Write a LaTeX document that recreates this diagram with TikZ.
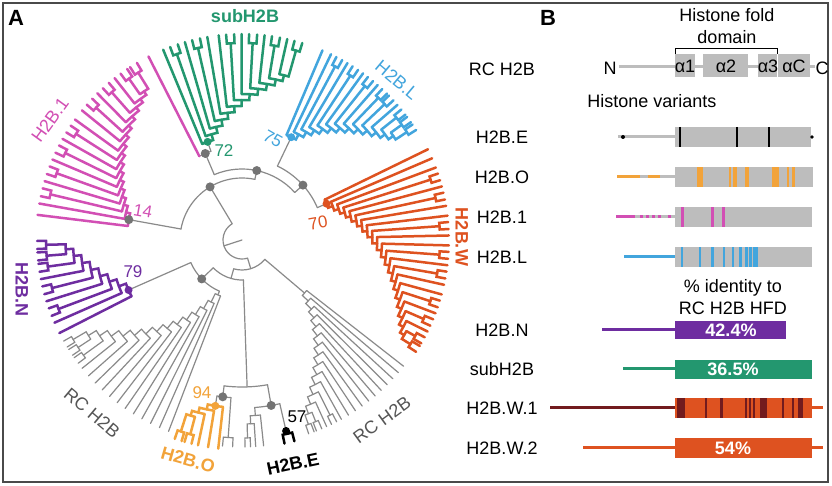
\documentclass[tikz,border=0pt]{standalone}
\usepackage{fontspec}
\setmainfont{Liberation Sans}
\usepackage{tikz}

\definecolor{framec}{HTML}{4A4A4A}
\definecolor{treegray}{HTML}{8A8A8A}
\definecolor{dotgray}{HTML}{747474}
\definecolor{textgray}{HTML}{555555}
\definecolor{bargray}{HTML}{BDBDBD}
\definecolor{subgreen}{HTML}{23976F}
\definecolor{lblue}{HTML}{42A5DD}
\definecolor{pinkc}{HTML}{D24FB4}
\definecolor{purp}{HTML}{6E2DA0}
\definecolor{wred}{HTML}{DE5220}
\definecolor{orng}{HTML}{F2A33A}
\definecolor{maroon}{HTML}{721B1E}

\tikzset{
  tr/.style={treegray, line width=0.6pt},
  cl/.style={#1, line width=1.25pt},
  nterm/.style={line width=1.5pt},
  lab/.style={font=\fontsize{9}{10}\selectfont},
  blab/.style={font=\bfseries\fontsize{9}{10}\selectfont},
  num/.style={font=\fontsize{8.5}{9}\selectfont}
}

% staircase clade: #1 style, #2 first node radius, #3 radius step, #4 tip radius,
% #5 first angle, #6 angle step, #7 number of units, #8 units (1 leaf, 2 cherry)
\newcommand{\clade}[8]{%
  \foreach \ut [count=\jj from 0] in {#8}{
    \pgfmathsetmacro{\ua}{#5+\jj*(#6)}
    \pgfmathsetmacro{\rj}{#2+\jj*(#3)}
    \ifnum\jj<\numexpr#7-1\relax
      \pgfmathsetmacro{\mn}{#5+(\jj+1)*(#6)+(#6)*(1-2^(-(#7-2-\jj)))}
      \pgfmathsetmacro{\rn}{#2+(\jj+1)*(#3)}
      \draw[#1] (\ua:\rj) arc[start angle=\ua, end angle=\mn, radius=\rj] -- (\mn:\rn);
    \fi
    \ifnum\ut=1
      \draw[#1] (\ua:\rj) -- (\ua:#4);
    \else
      \pgfmathsetmacro{\hw}{0.35*abs(#6)}
      \pgfmathsetmacro{\rc}{#4-9}
      \draw[#1] (\ua:\rj) -- (\ua:\rc);
      \draw[#1] (\ua-\hw:#4) -- (\ua-\hw:\rc) arc[start angle=\ua-\hw, end angle=\ua+\hw, radius=\rc] -- (\ua+\hw:#4);
    \fi
  }%
}

\begin{document}
\begin{tikzpicture}[x=0.5pt,y=-0.5pt]
\useasboundingbox (0,0) rectangle (832,486);
\fill[white] (0,0) rectangle (832,486);
\draw[framec, line width=1.1pt] (3,3) rectangle (828,482);

\node[font=\bfseries\fontsize{11}{11}\selectfont] (lA) at (16,18) {A};
\node[font=\bfseries\fontsize{11}{11}\selectfont] (lB) at (548,18) {B};

% tree
\begin{scope}[shift={(242,240)}, y=0.5pt, line cap=round]
\draw[tr] (198:0) -- (198:19);
\draw[tr] (121:19) arc[start angle=121, end angle=287, radius=19];
\draw[tr] (121:19) -- (121:62);
\draw[tr] (169.8:62) arc[start angle=169.8, end angle=78, radius=62];
\draw[tr] (169.8:62) -- (169.8:115);
\draw[tr] (78:62) -- (78:71);
\draw[tr] (113:71) arc[start angle=113, end angle=42, radius=71];
\draw[tr] (113:71) -- (113:94);
\draw[tr] (117:94) arc[start angle=117, end angle=109.3, radius=94];
\draw[tr] (109.3:94) -- (109.3:104);
\draw[tr] (42:71) -- (42:82);
\draw[tr] (64.4:82) arc[start angle=64.4, end angle=23.25, radius=82];
\draw[tr] (64.4:82) -- (64.4:114);
\draw[tr] (23.25:82) -- (23.25:92);
\draw[tr] (287:19) -- (287:30);
\draw[tr] (254:30) arc[start angle=254, end angle=319.7, radius=30];
\draw[tr] (319.7:30) -- (319.7:82);
\draw[tr] (254:30) -- (254:40);
\draw[tr] (224:40) arc[start angle=224, end angle=272, radius=40];
\draw[tr] (224:40) -- (224:56);
\draw[tr] (203.8:56) arc[start angle=203.8, end angle=246.25, radius=56];
\draw[tr] (203.8:56) -- (203.8:124);
\draw[tr] (246.25:56) -- (246.25:60);
\draw[tr] (272:40) -- (272:147);
\draw[tr] (263:147) arc[start angle=263, end angle=280, radius=147];
\draw[tr] (263:147) -- (263:158);
\draw[tr] (260.875:158) arc[start angle=260.875, end angle=266, radius=158];
\draw[tr] (260.875:158) -- (260.875:168);
\draw[tr] (280:147) -- (280:168);
\draw[tr] (274.35:168) arc[start angle=274.35, end angle=283, radius=168];
\draw[tr] (274.35:168) -- (274.35:176);
\draw[tr] (283:168) -- (283:196);

\draw[cl=pinkc] (117:94) -- (117:206);
\clade{cl=pinkc}{115}{4.2}{206}{173}{-3.2}{17}{1,1,2,1,2,1,2,1,2,1,1,2,1,2,1,2,2}
\clade{cl=subgreen}{104}{6}{206}{112.5}{-3.2}{13}{1,2,1,2,1,1,2,1,2,1,2,1,2}
\clade{cl=lblue}{114}{5.8}{206}{67}{-2.6}{14}{1,1,2,1,2,1,2,1,2,2,1,2,2,2}
\clade{cl=wred}{92}{4.8}{207}{26}{-2.75}{22}{1,1,1,2,1,2,1,1,2,1,1,2,1,2,1,1,2,1,2,1,2,2}
\clade{cl=purp}{124}{7.5}{205}{207}{-3.2}{9}{1,1,2,1,2,1,2,2,2}
\clade{tr}{60}{9.3}{205}{249}{-2.75}{15}{1,1,1,1,1,1,1,1,1,1,1,1,2,2,2}
\clade{tr}{82}{8}{205}{322}{-2.3}{15}{1,1,1,1,1,1,1,1,1,1,1,2,1,2,2}
\clade{cl=orng}{168}{5}{210}{263.5}{-2.8}{5}{1,1,1,2,2}
\clade{tr}{158}{0}{207}{266}{-4}{1}{2}
\clade{tr}{176}{8}{207}{276}{-2.2}{3}{1,1,2}
\clade{cl=black}{196}{0}{208}{283.2}{-4}{1}{2}

\foreach \a/\r in {121/62, 78/71, 42/82, 113/94, 169.8/115, 224/56, 263/158, 280/168}
  \fill[dotgray] (\a:\r) circle[radius=4.5];
\fill[subgreen] (109.3:104) circle[radius=4];
\fill[lblue] (64.4:114) circle[radius=4];
\fill[wred] (23.25:92) circle[radius=4];
\fill[purp] (203.8:124) circle[radius=4];
\fill[orng] (260.875:168) circle[radius=4];
\fill[black] (283:196) circle[radius=4];
\end{scope}

% clade labels
\node[blab, subgreen] (tsub) at (245,16) {subH2B};
\node[lab, lblue, rotate=-40] (tL) at (397,80) {H2B.L};
\node[lab, pinkc, rotate=54] (t1) at (50,120) {H2B.1};
\node[blab, purp, rotate=-90] (tN) at (22,290) {H2B.N};
\node[blab, wred, rotate=-90] (tW) at (462,237) {H2B.W};
\node[lab, textgray, rotate=-40] (tRCl) at (92,413) {RC H2B};
\node[lab, textgray, rotate=36] (tRCr) at (382,420) {RC H2B};
\node[blab, orng, rotate=-16] (tO) at (188,460) {H2B.O};
\node[blab, black, rotate=12] (tE) at (293,464) {H2B.E};

\node[num, subgreen] (n72) at (224,151) {72};
\node[num, lblue, rotate=-30] (n75) at (273,139) {75};
\node[num, wred, rotate=10] (n70) at (318,223) {70};
\node[num, pinkc, rotate=-10] (n14) at (143,211) {14};
\node[num, purp] (n79) at (133,272) {79};
\node[num, orng] (n94) at (202,393) {94};
\node[num, black] (n57) at (297,417) {57};

% panel B
\node[lab] (hf1) at (727,15) {Histone fold};
\node[lab] (hf2) at (727,37) {domain};
\draw[line width=0.5pt] (675,54) -- (675,49) -- (777,49) -- (777,54);
\node[lab] (rRC) at (502,69) {RC H2B};
\node[lab] (nN) at (610,68) {N};
\node[lab] (nC) at (822,68) {C};
\draw[bargray, nterm] (619,67) -- (675,67) (695,67) -- (703,67) (748,67) -- (758,67) (810,67) -- (815,67);
\fill[bargray] (675,54) rectangle (695,77);
\fill[bargray] (703,54) rectangle (748,77);
\fill[bargray] (758,54) rectangle (777,77);
\fill[bargray] (778,54) rectangle (810,77);
\node[lab] (h1) at (685,66) {α1};
\node[lab] (h2) at (726,66) {α2};
\node[lab] (h3) at (768,66) {α3};
\node[lab] (hC) at (794,66) {αC};

\node[lab] (hv) at (652,101) {Histone variants};

\node[lab] (rE) at (502,137) {H2B.E};
\draw[bargray, nterm] (618,137) -- (675,137);
\fill[black] (623,137) circle[radius=2];
\fill[bargray] (675,127) rectangle (811,147);
\foreach \x in {680,737,769}
  \draw[black, line width=0.8pt] (\x,127) -- (\x,147);
\fill[black] (812,137) circle[radius=1.8];

\node[lab] (rO) at (502,177) {H2B.O};
\draw[bargray, nterm] (617,177) -- (675,177);
\draw[orng, nterm] (617,177) -- (640,177) (648,177) -- (660,177);
\fill[bargray] (675,167) rectangle (813,187);
\foreach \x/\w in {697/6, 729/2, 733/4, 745/4, 772/7, 787/2, 792/3}
  \fill[orng] (\x,167) rectangle ++(\w,20);

\node[lab] (r1) at (502,217) {H2B.1};
\draw[bargray, nterm] (616,217) -- (675,217);
\draw[pinkc, nterm] (616,217) -- (635,217);
\foreach \x in {640,646,652,658,668}
  \draw[pinkc, nterm] (\x,217) -- ++(3,0);
\fill[bargray] (675,207) rectangle (812,227);
\foreach \x/\w in {681/2.5, 711/2.5, 722/2.5}
  \fill[pinkc] (\x,207) rectangle ++(\w,20);

\node[lab] (rL) at (502,257) {H2B.L};
\draw[lblue, nterm] (624,257) -- (675,257);
\fill[bargray] (675,247) rectangle (812,267);
\foreach \x/\w in {681/2, 699/2, 711/2.5, 723/2, 732/2, 739/2.5, 745/2.5, 749/3, 753/5}
  \fill[lblue] (\x,247) rectangle ++(\w,20);

\node[lab] (pid1) at (733,288) {\% identity to};
\node[lab] (pid2) at (733,308) {RC H2B HFD};

\node[lab] (rN) at (502,330) {H2B.N};
\draw[purp, nterm] (602,330) -- (675,330);
\fill[purp] (675,321) rectangle (786,339);
\node[blab, white] (pN) at (731,330) {42.4\%};

\node[lab] (rS) at (502,369) {subH2B};
\draw[subgreen, nterm] (623,369) -- (675,369);
\fill[subgreen] (675,360) rectangle (812,379);
\node[blab, white] (pS) at (733,369) {36.5\%};

\node[lab] (rW1) at (502,408) {H2B.W.1};
\draw[maroon, nterm] (550,408) -- (675,408);
\fill[wred] (675,398) rectangle (812,418);
\foreach \x/\w in {677/8, 705/2, 720/2.5, 745/2, 749/2, 753/2, 760/7, 782/2, 792/2, 798/5}
  \fill[maroon] (\x,398) rectangle ++(\w,20);
\draw[wred, nterm] (812,408) -- (823,408);

\node[lab] (rW2) at (502,448) {H2B.W.2};
\draw[wred, nterm] (583,448) -- (675,448);
\fill[wred] (675,438) rectangle (812,458);
\node[blab, white] (pW) at (733,448) {54\%};
\draw[wred, nterm] (812,448) -- (823,448);
\end{tikzpicture}
\end{document}
